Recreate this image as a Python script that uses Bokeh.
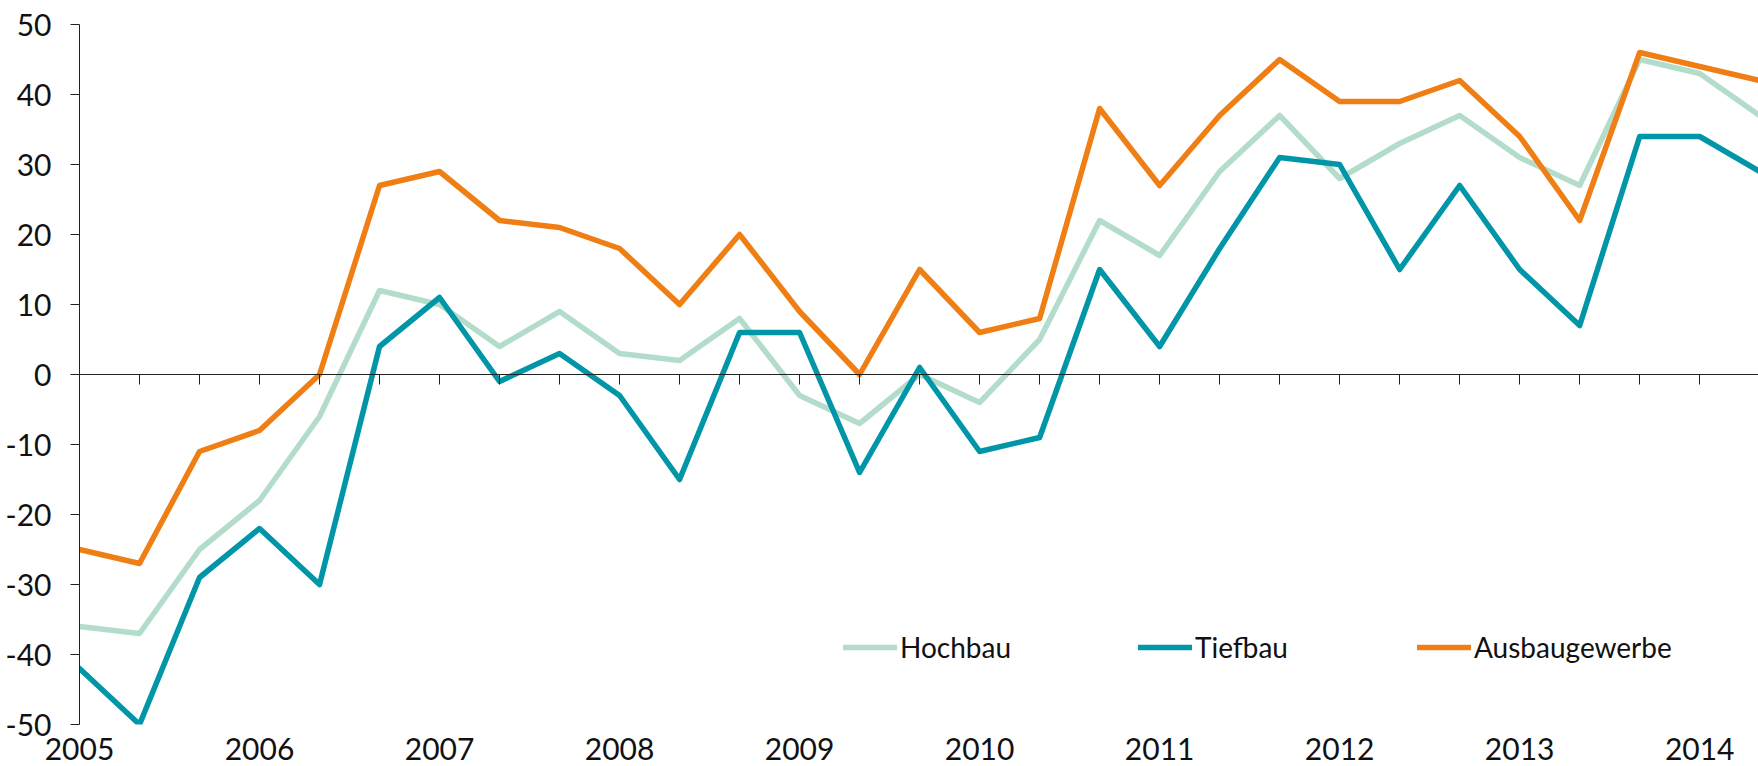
from bokeh.plotting import figure
from bokeh.models import Range1d, FixedTicker, LinearAxis, Legend, LegendItem
from bokeh.embed import file_html
from bokeh.resources import INLINE

# ---- data ----
years = [2005, 2006, 2007, 2008, 2009, 2010, 2011, 2012, 2013, 2014]
period_year = [2005, 2005, 2005, 2006, 2006, 2006, 2007, 2007, 2007,
               2008, 2008, 2008, 2009, 2009, 2009, 2010, 2010, 2010,
               2011, 2011, 2011, 2012, 2012, 2012, 2013, 2013, 2013,
               2014, 2014]
period_third = [1, 2, 3] * 9 + [1, 2]

hochbau = [-36, -37, -25, -18, -6, 12, 10, 4, 9, 3, 2, 8, -3, -7, 0, -4, 5,
           22, 17, 29, 37, 28, 33, 37, 31, 27, 45, 43, 37]
tiefbau = [-42, -50, -29, -22, -30, 4, 11, -1, 3, -3, -15, 6, 6, -14, 1, -11,
           -9, 15, 4, 18, 31, 30, 15, 27, 15, 7, 34, 34, 29]
ausbau = [-25, -27, -11, -8, 0, 27, 29, 22, 21, 18, 10, 20, 9, 0, 15, 6, 8,
          38, 27, 37, 45, 39, 39, 42, 34, 22, 46, 44, 42]

series_names = ["Hochbau", "Tiefbau", "Ausbaugewerbe"]
series_colors = ["#b4dccb", "#0096a8", "#ef7f14"]
y_ticks = [-50, -40, -30, -20, -10, 0, 10, 20, 30, 40, 50]

x = [y + (t - 1) / 3 for y, t in zip(period_year, period_third)]

FONT = "Lato"
TXT = "#111111"
FS = "30px"

p = figure(width=1758, height=766, output_backend="svg", toolbar_location=None,
           x_range=Range1d(2005, 2005 + 27.98 / 3), y_range=Range1d(-50, 50),
           min_border_left=79, min_border_right=0, min_border_top=24,
           min_border_bottom=42, background_fill_color="white",
           border_fill_color="white")
p.outline_line_color = None
p.grid.visible = False

# bottom axis: year labels only
xa = p.xaxis[0]
xa.ticker = FixedTicker(ticks=years)
xa.major_label_overrides = {yr: str(yr) for yr in years}
xa.axis_line_color = None
xa.major_tick_line_color = None
xa.minor_tick_line_color = None
xa.major_tick_out = 0
xa.major_tick_in = 0
xa.major_label_standoff = 13
xa.major_label_text_font = FONT
xa.major_label_text_font_size = FS
xa.major_label_text_color = TXT

# zero line axis with ticks at every period (no labels)
zero_axis = LinearAxis(fixed_location=0, ticker=FixedTicker(ticks=x),
                       major_label_overrides={v: "" for v in x},
                       major_label_standoff=0,
                       major_tick_in=10, major_tick_out=0,
                       minor_tick_line_color=None,
                       axis_line_color="#222222", major_tick_line_color="#222222")
p.add_layout(zero_axis, "above")

# y axis
ya = p.yaxis[0]
ya.ticker = FixedTicker(ticks=y_ticks)
ya.major_label_overrides = {v: str(v) for v in y_ticks}
ya.axis_line_color = "#222222"
ya.major_tick_line_color = "#222222"
ya.minor_tick_line_color = None
ya.major_tick_out = 9
ya.major_tick_in = 0
ya.major_label_standoff = 19
ya.major_label_text_font = FONT
ya.major_label_text_font_size = FS
ya.major_label_text_color = TXT

renderers = []
for name, vals, col in zip(series_names, [hochbau, tiefbau, ausbau], series_colors):
    r = p.line(x, vals, line_color=col, line_width=5.5, line_join="round",
               line_cap="round")
    renderers.append(r)

legend_pos = [(764, 60), (1059, 60), (1338, 60)]
for name, r, loc in zip(series_names, renderers, legend_pos):
    lg = Legend(items=[LegendItem(label=name, renderers=[r])], location=loc,
                orientation="horizontal", padding=0, margin=0,
                border_line_color=None, background_fill_alpha=0,
                glyph_width=54, glyph_height=30, label_standoff=3,
                label_text_font=FONT, label_text_font_size="28px",
                label_text_color=TXT)
    p.add_layout(lg, "center")

open("out.html", "w").write(file_html(p, INLINE))
